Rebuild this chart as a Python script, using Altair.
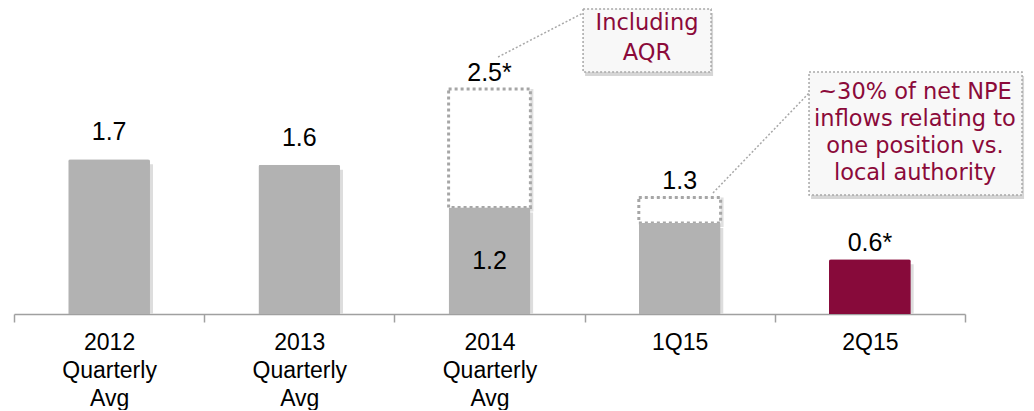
import altair as alt
import pandas as pd

# ---- data ----
categories = ["2012 Quarterly Avg", "2013 Quarterly Avg", "2014 Quarterly Avg", "1Q15", "2Q15"]
solid_values = [1.70, 1.64, 1.17, 1.00, 0.60]
dashed_totals = [None, None, 2.47, 1.28, None]
top_labels = ["1.7", "1.6", "2.5*", "1.3", "0.6*"]
inner_labels = ["", "", "1.2", "", ""]
bar_colors = ["#B2B2B2", "#B2B2B2", "#B2B2B2", "#B2B2B2", "#870A3A"]
label_group = ["high", "high", "near", "near", "near"]

# callouts (x in category units 0..5, y in value units)
callout_ids = ["aqr", "npe"]
callout_texts = ["Including\nAQR",
                 "~30% of net NPE\ninflows relating to\none position vs.\nlocal authority"]
callout_x = [2.992, 4.180]
callout_x2 = [3.665, 5.300]
callout_y = [3.349, 2.657]
callout_y2 = [2.657, 1.307]
callout_text_x = [3.328, 4.737]
callout_text_y = [3.195, 2.438]   # first text line
leader_x = [2.545, 3.675]
leader_y = [2.822, 1.329]
leader_x2 = [2.992, 4.180]
leader_y2 = [3.305, 2.427]

Y_DOMAIN = [0, 3.36]
MAROON_TEXT = "#8B0A3A"

df = pd.DataFrame({
    "cat": categories,
    "solid": solid_values,
    "total": dashed_totals,
    "top_label": top_labels,
    "inner_label": inner_labels,
    "color": bar_colors,
    "group": label_group,
})
df["anchor"] = df["total"].fillna(df["solid"])
df["mid"] = df["solid"] / 2

ann = pd.DataFrame({
    "id": callout_ids,
    "text": callout_texts,
    "x": callout_x, "x2": callout_x2,
    "y": callout_y, "y2": callout_y2,
    "tx": callout_text_x, "ty": callout_text_y,
    "lx": leader_x, "ly": leader_y, "lx2": leader_x2, "ly2": leader_y2,
})

yscale = alt.Scale(domain=Y_DOMAIN, nice=False, zero=True)
xband = alt.X(
    "cat:N", sort=categories, title=None,
    scale=alt.Scale(paddingInner=0, paddingOuter=0),
    axis=alt.Axis(
        labelExpr="split(datum.label, ' ')",
        labelAngle=0, labelFont="Liberation Sans", labelFontSize=23,
        labelColor="#000000", labelLineHeight=28, labelPadding=9,
        labelBaseline="top",
        tickBand="extent", tickSize=8, tickColor="#A0A0A0", tickWidth=1.5,
        domainColor="#A0A0A0", domainWidth=1.5, grid=False,
    ),
)
BW = alt.RelativeBandSize(0.43)

base = alt.Chart(df)

bar_shadow = base.mark_bar(
    color="#DDDDDD", width=BW, xOffset=3, yOffset=5, y2Offset=0,
    cornerRadiusTopLeft=2, cornerRadiusTopRight=2,
).encode(x=xband, y=alt.Y("solid:Q", scale=yscale, axis=None))

dashed_shadow = base.transform_filter("isValid(datum.total)").mark_bar(
    color="#E0E0E0", width=BW, xOffset=3, yOffset=4,
).encode(x=xband, y=alt.Y("solid:Q", scale=yscale, axis=None), y2="total:Q")

dashed = base.transform_filter("isValid(datum.total)").mark_bar(
    fill="white", stroke="#A6A6A6", strokeWidth=3, strokeDash=[3, 3], width=BW,
).encode(x=xband, y=alt.Y("solid:Q", scale=yscale, axis=None), y2="total:Q")

bars = base.mark_bar(width=BW, cornerRadiusTopLeft=2, cornerRadiusTopRight=2).encode(
    x=xband,
    y=alt.Y("solid:Q", scale=yscale, axis=None),
    color=alt.Color("color:N", scale=None),
)

label_high = base.transform_filter("datum.group == 'high'").mark_text(
    font="Liberation Sans", fontSize=25, color="#000000", baseline="middle", dy=-27,
).encode(x=xband, y=alt.Y("anchor:Q", scale=yscale, axis=None), text="top_label:N")

label_near = base.transform_filter("datum.group == 'near'").mark_text(
    font="Liberation Sans", fontSize=25, color="#000000", baseline="middle", dy=-16,
).encode(x=xband, y=alt.Y("anchor:Q", scale=yscale, axis=None), text="top_label:N")

label_inner = base.transform_filter("datum.inner_label != ''").mark_text(
    font="Liberation Sans", fontSize=25, color="#000000", baseline="middle",
).encode(x=xband, y=alt.Y("mid:Q", scale=yscale, axis=None), text="inner_label:N")

main = alt.layer(bar_shadow, dashed_shadow, dashed, bars, label_high, label_near, label_inner)

xq = alt.Scale(domain=[0, 5], nice=False, zero=False)
abase = alt.Chart(ann)

leaders = abase.mark_rule(color="#A8A8A8", strokeWidth=1.5, strokeDash=[2, 2]).encode(
    x=alt.X("lx:Q", scale=xq, axis=None), x2="lx2:Q",
    y=alt.Y("ly:Q", scale=yscale, axis=None), y2="ly2:Q",
)
box_shadow = abase.mark_rect(color="#D6D6D6", xOffset=2, yOffset=4, x2Offset=2, y2Offset=4).encode(
    x=alt.X("x:Q", scale=xq, axis=None), x2="x2:Q",
    y=alt.Y("y:Q", scale=yscale, axis=None), y2="y2:Q",
)
boxes = abase.mark_rect(fill="#F8F8F8", stroke="#A8A8A8", strokeWidth=1.5, strokeDash=[2, 2]).encode(
    x=alt.X("x:Q", scale=xq, axis=None), x2="x2:Q",
    y=alt.Y("y:Q", scale=yscale, axis=None), y2="y2:Q",
)
text_aqr = abase.transform_filter("datum.id == 'aqr'").mark_text(
    font="DejaVu Sans", fontSize=22.5, color=MAROON_TEXT, lineBreak="\n",
    lineHeight=30, baseline="middle", align="center",
).encode(
    x=alt.X("tx:Q", scale=xq, axis=None),
    y=alt.Y("ty:Q", scale=yscale, axis=None),
    text="text:N",
)
text_npe = abase.transform_filter("datum.id == 'npe'").mark_text(
    font="DejaVu Sans", fontSize=22.5, color=MAROON_TEXT, lineBreak="\n",
    lineHeight=27, baseline="middle", align="center",
).encode(
    x=alt.X("tx:Q", scale=xq, axis=None),
    y=alt.Y("ty:Q", scale=yscale, axis=None),
    text="text:N",
)

annot = alt.layer(leaders, box_shadow, boxes, text_aqr, text_npe)

chart = alt.layer(main, annot).resolve_scale(x="independent").properties(
    width=951, height=306, background="white",
    padding={"left": 5, "top": 0, "right": 0, "bottom": 0},
).configure_view(strokeWidth=0, stroke="transparent")

chart.save("out.html", embed_options={"renderer": "svg", "actions": False})
